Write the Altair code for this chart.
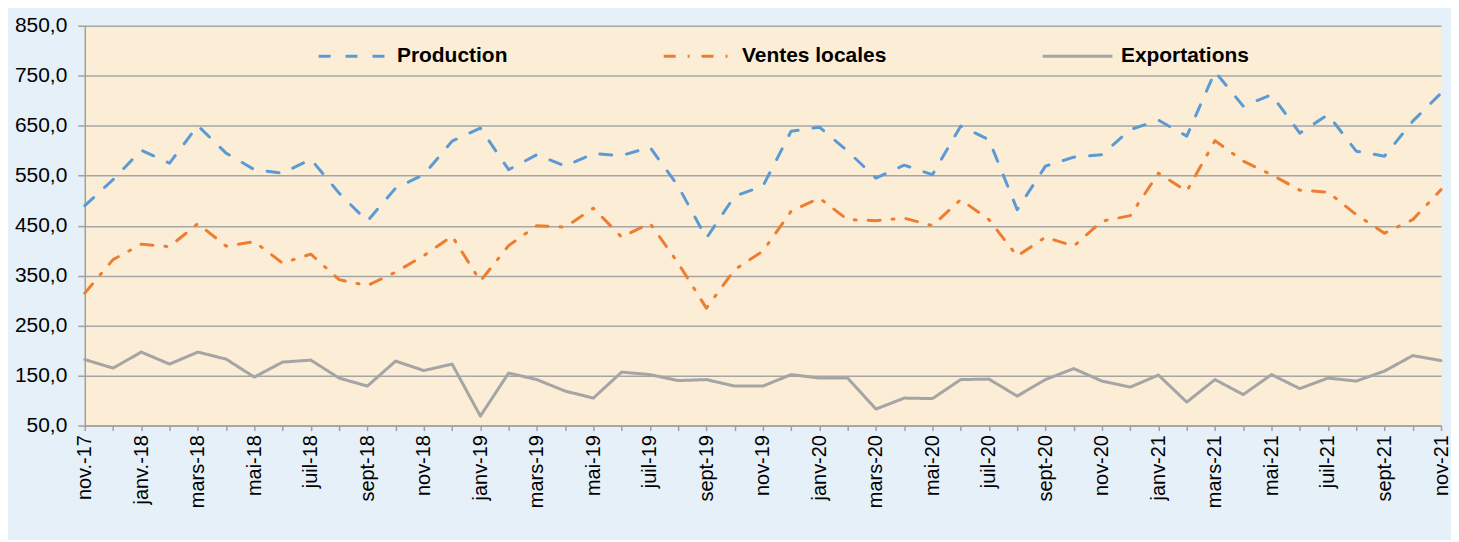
import altair as alt
import pandas as pd

months = [
    "nov.-17", "déc.-17",
    "janv.-18", "févr.-18", "mars-18", "avr-18", "mai-18", "juin-18", "juil-18", "août-18", "sept-18", "oct-18", "nov-18", "déc-18",
    "janv-19", "févr-19", "mars-19", "avr-19", "mai-19", "juin-19", "juil-19", "août-19", "sept-19", "oct-19", "nov-19", "déc-19",
    "janv-20", "févr-20", "mars-20", "avr-20", "mai-20", "juin-20", "juil-20", "août-20", "sept-20", "oct-20", "nov-20", "déc-20",
    "janv-21", "févr-21", "mars-21", "avr-21", "mai-21", "juin-21", "juil-21", "août-21", "sept-21", "oct-21", "nov-21",
]

production = [490, 542, 601, 575, 650, 595, 562, 555, 583, 515, 459, 525, 552, 619, 645, 562, 592,
              569, 594, 590, 607, 529, 425, 509, 529, 639, 647, 599, 545, 571, 552, 649, 622, 482,
              569, 587, 592, 642, 661, 629, 758, 689, 712, 635, 672, 599, 589, 659, 715]
ventes = [315, 382, 413, 408, 454, 409, 418, 375, 393, 342, 330, 357, 390, 429, 339, 410, 450,
          447, 485, 427, 455, 375, 285, 362, 399, 479, 505, 462, 460, 465, 450, 502, 462, 389,
          427, 409, 459, 470, 555, 519, 620, 579, 552, 521, 517, 472, 435, 462, 522]
exportations = [182, 165, 197, 173, 197, 183, 147, 177, 181, 145, 129, 179, 160, 173, 69, 155, 142,
                119, 105, 157, 152, 140, 142, 129, 129, 152, 145, 145, 83, 105, 104, 142, 143, 109,
                142, 164, 139, 127, 151, 97, 142, 112, 152, 124, 145, 139, 159, 190, 180]

series_names = ["Production", "Ventes locales", "Exportations"]
series_colors = ["#5B9BD5", "#ED7D31", "#A5A5A5"]
series_dash = [[12, 15], [12, 12, 2, 12], [1, 0]]

rows = []
for name, vals in zip(series_names, [production, ventes, exportations]):
    for i, v in enumerate(vals):
        rows.append({"idx": i, "mois": months[i], "serie": name, "valeur": v})
df = pd.DataFrame(rows)

label_array = "[" + ",".join("'" + m + "'" for m in months) + "]"
x_label_expr = f"datum.value % 2 == 0 ? {label_array}[datum.value] : ''"
y_label_expr = "replace(format(datum.value, '.1f'), '.', ',')"

chart = alt.Chart(df).mark_line(strokeWidth=3, strokeCap="round", strokeJoin="round").encode(
    x=alt.X("idx:Q",
            scale=alt.Scale(domain=[0, len(months) - 1], nice=False, zero=False),
            axis=alt.Axis(values=list(range(len(months))), labelExpr=x_label_expr,
                          labelAngle=-90, labelAlign="right", labelBaseline="middle",
                          labelOverlap=False, labelFontSize=20, labelPadding=4,
                          tickSize=5, grid=False, title=None)),
    y=alt.Y("valeur:Q",
            scale=alt.Scale(domain=[50, 850], nice=False, zero=False),
            axis=alt.Axis(values=list(range(50, 851, 100)), labelExpr=y_label_expr,
                          labelFontSize=21, labelPadding=11, tickSize=7,
                          grid=True, title=None)),
    color=alt.Color("serie:N",
                    scale=alt.Scale(domain=series_names, range=series_colors),
                    legend=alt.Legend(title=None, orient="none", legendX=233, legendY=-6,
                                      direction="horizontal", symbolType="stroke",
                                      symbolSize=4900, symbolStrokeWidth=3,
                                      labelFontSize=21, labelFontWeight="bold",
                                      labelColor="#000000", labelOffset=7,
                                      columnPadding=150, labelLimit=400)),
    strokeDash=alt.StrokeDash("serie:N",
                              scale=alt.Scale(domain=series_names, range=series_dash),
                              legend=None),
    order="idx:Q",
).properties(
    width=1360,
    height=401,
    autosize=alt.AutoSizeParams(type="none"),
    padding={"left": 77, "top": 17, "right": 10, "bottom": 114},
    background="#E6F0F8",
).configure_view(
    fill="#FCEED6",
    stroke=None,
).configure_axis(
    labelFont="Liberation Sans",
    labelColor="#000000",
    domainColor="#A0A0A0",
    domainWidth=1.5,
    tickColor="#A0A0A0",
    tickWidth=1.5,
    gridColor="#A6A6A6",
    gridWidth=1.5,
).configure_legend(
    labelFont="Liberation Sans",
)

chart.save("out.html", embed_options={"renderer": "svg", "actions": False})
